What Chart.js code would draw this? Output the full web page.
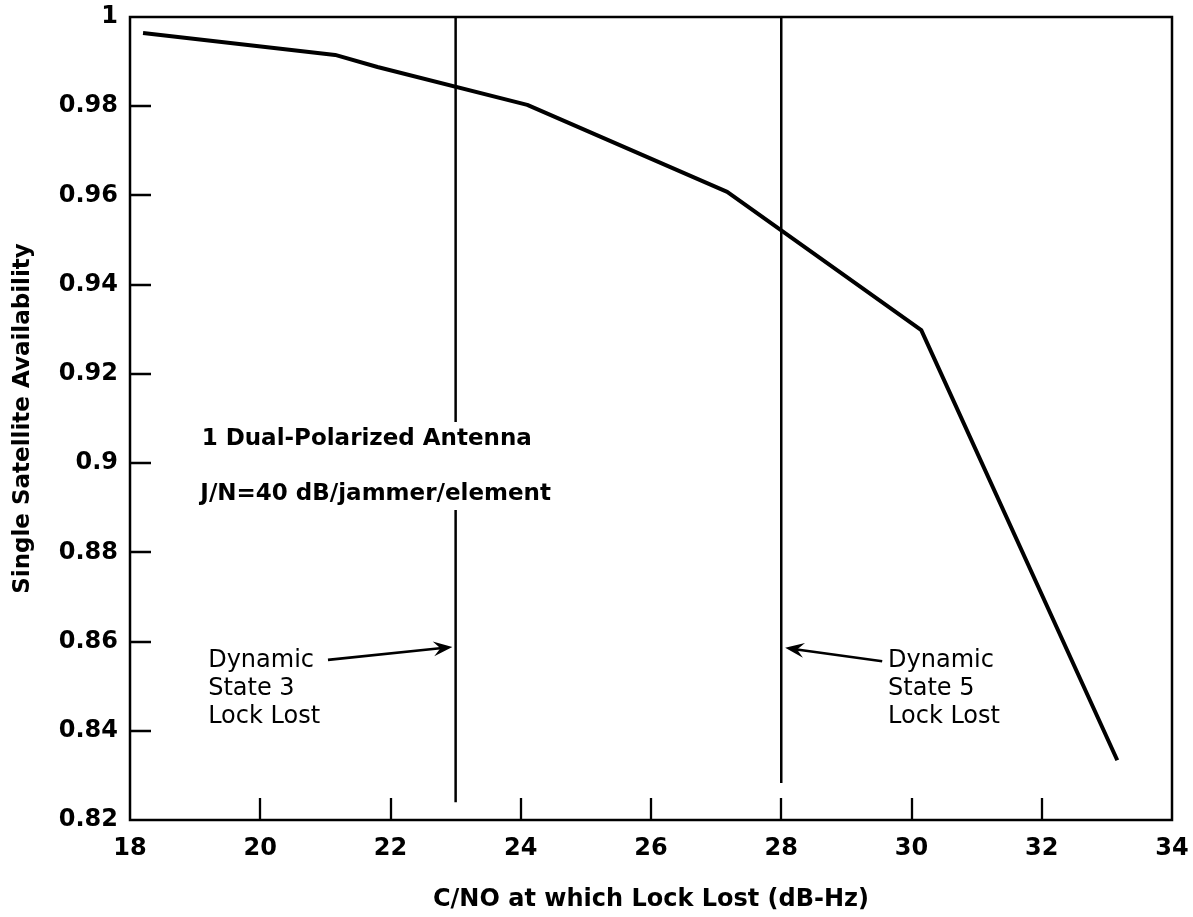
<!DOCTYPE html>
<html>
<head>
<meta charset="utf-8">
<script src="https://cdn.jsdelivr.net/npm/chart.js@4.4.1/dist/chart.umd.min.js"></script>
<style>
  html, body { margin: 0; padding: 0; background: #fff; overflow: hidden; }
  canvas { display: block; }
</style>
</head>
<body>
<canvas id="c" width="1193" height="917"></canvas>
<script>
// ---- data ----
const cnoValues = [18.2, 21.15, 21.8, 24.1, 27.17, 30.15, 33.16];
const availability = [0.9964, 0.9915, 0.9888, 0.9803, 0.9608, 0.9298, 0.8334];
const xTickValues = [18, 20, 22, 24, 26, 28, 30, 32, 34];
const xTickLabels = ['18', '20', '22', '24', '26', '28', '30', '32', '34'];
const yTickValues = [0.82, 0.84, 0.86, 0.88, 0.90, 0.92, 0.94, 0.96, 0.98, 1.00];
const yTickLabels = ['0.82', '0.84', '0.86', '0.88', '0.9', '0.92', '0.94', '0.96', '0.98', '1'];
// vertical "lock lost" markers: x position, and y segments [from, to]
const state3X = 23;
const state3Segments = [[1.0, 0.9092], [0.8895, 0.8240]];
const state5X = 28;
const state5Segments = [[1.0, 0.8283]];
// annotation texts
const noteLines = ['1 Dual-Polarized Antenna', 'J/N=40 dB/jammer/element'];
const notePos = [[19.1, 0.9041], [19.08, 0.8917]];
const state3Text = ['Dynamic', 'State 3', 'Lock Lost'];
const state3TextPos = [19.2, 0.8542];
const state3Arrow = [[21.04, 0.8559], [22.95, 0.8588]];
const state5Text = ['Dynamic', 'State 5', 'Lock Lost'];
const state5TextPos = [29.64, 0.8542];
const state5Arrow = [[29.55, 0.8556], [28.06, 0.8586]];

const FONT = "'DejaVu Sans', 'Liberation Sans', sans-serif";

function segData(xv, segs) {
  const out = [];
  segs.forEach((s, i) => {
    if (i > 0) out.push({ x: xv, y: null });
    out.push({ x: xv, y: s[0] });
    out.push({ x: xv, y: s[1] });
  });
  return out;
}

function labelFor(values, labels, v) {
  for (let i = 0; i < values.length; i++) {
    if (Math.abs(values[i] - v) < 1e-6) return labels[i];
  }
  return '';
}

const framePlugin = {
  id: 'frame',
  afterDraw(chart) {
    const { ctx, chartArea: a, scales } = chart;
    const xs = scales.x, ys = scales.y;
    ctx.save();
    ctx.strokeStyle = '#000';
    ctx.lineWidth = 2.5;
    ctx.strokeRect(a.left, a.top, a.right - a.left, a.bottom - a.top);
    // inward tick marks
    ctx.lineWidth = 2.3;
    ctx.beginPath();
    xTickValues.forEach(v => {
      if (v === xTickValues[0] || v === xTickValues[xTickValues.length - 1]) return;
      const px = Math.round(xs.getPixelForValue(v));
      ctx.moveTo(px, a.bottom);
      ctx.lineTo(px, a.bottom - 22);
    });
    yTickValues.forEach(v => {
      if (v === yTickValues[0] || v === yTickValues[yTickValues.length - 1]) return;
      const py = Math.round(ys.getPixelForValue(v));
      ctx.moveTo(a.left, py);
      ctx.lineTo(a.left + 21, py);
    });
    ctx.stroke();

    // bold notes
    ctx.fillStyle = '#000';
    ctx.textAlign = 'left';
    ctx.textBaseline = 'alphabetic';
    ctx.font = 'bold 23px ' + FONT;
    noteLines.forEach((t, i) => {
      ctx.fillText(t, xs.getPixelForValue(notePos[i][0]), ys.getPixelForValue(notePos[i][1]));
    });

    // regular multi-line labels
    ctx.font = '24px ' + FONT;
    const drawBlock = (lines, pos) => {
      const x0 = xs.getPixelForValue(pos[0]);
      const y0 = ys.getPixelForValue(pos[1]);
      lines.forEach((t, i) => ctx.fillText(t, x0, y0 + i * 28));
    };
    drawBlock(state3Text, state3TextPos);
    drawBlock(state5Text, state5TextPos);

    // arrows
    const drawArrow = (arr) => {
      const x1 = xs.getPixelForValue(arr[0][0]), y1 = ys.getPixelForValue(arr[0][1]);
      const x2 = xs.getPixelForValue(arr[1][0]), y2 = ys.getPixelForValue(arr[1][1]);
      const ang = Math.atan2(y2 - y1, x2 - x1);
      const c = Math.cos(ang), s = Math.sin(ang);
      const L = 19, W = 7.5;
      ctx.lineWidth = 2.6;
      ctx.beginPath();
      ctx.moveTo(x1, y1);
      ctx.lineTo(x2 - c * 10, y2 - s * 10);
      ctx.stroke();
      ctx.beginPath();
      ctx.moveTo(x2, y2);
      ctx.lineTo(x2 - L * c + W * s, y2 - L * s - W * c);
      ctx.lineTo(x2 - 12 * c, y2 - 12 * s);
      ctx.lineTo(x2 - L * c - W * s, y2 - L * s + W * c);
      ctx.closePath();
      ctx.fill();
    };
    drawArrow(state3Arrow);
    drawArrow(state5Arrow);
    ctx.restore();
  }
};

new Chart(document.getElementById('c'), {
  type: 'line',
  data: {
    datasets: [
      {
        data: cnoValues.map((x, i) => ({ x, y: availability[i] })),
        borderColor: '#000',
        borderWidth: 4,
        pointRadius: 0,
        tension: 0,
        borderJoinStyle: 'round',
        borderCapStyle: 'butt'
      },
      {
        data: segData(state3X, state3Segments),
        borderColor: '#000',
        borderWidth: 2.5,
        pointRadius: 0,
        spanGaps: false
      },
      {
        data: segData(state5X, state5Segments),
        borderColor: '#000',
        borderWidth: 2.5,
        pointRadius: 0,
        spanGaps: false
      }
    ]
  },
  options: {
    responsive: false,
    devicePixelRatio: 1,
    animation: false,
    layout: { padding: { top: 17, right: 21, left: 0, bottom: 0 } },
    plugins: { legend: { display: false }, tooltip: { enabled: false } },
    scales: {
      x: {
        type: 'linear',
        min: 18, max: 34,
        afterBuildTicks(s) { s.ticks = xTickValues.map(v => ({ value: v })); },
        afterFit(s) { s.height = 97; s.paddingLeft = 0; s.paddingRight = 0; },
        grid: { display: false, drawTicks: false },
        border: { display: false },
        ticks: {
          padding: 14,
          color: '#000',
          font: { family: FONT, size: 24, weight: 'bold' },
          callback: v => labelFor(xTickValues, xTickLabels, v),
          maxRotation: 0, autoSkip: false
        },
        title: {
          display: true,
          text: 'C/NO at which Lock Lost (dB-Hz)',
          color: '#000',
          font: { family: FONT, size: 24, weight: 'bold' },
          padding: { top: 0, bottom: 3 }
        }
      },
      y: {
        type: 'linear',
        min: 0.82, max: 1,
        afterBuildTicks(s) { s.ticks = yTickValues.map(v => ({ value: v })); },
        afterFit(s) { s.width = 130; s.paddingTop = 0; s.paddingBottom = 0; },
        grid: { display: false, drawTicks: false },
        border: { display: false },
        ticks: {
          padding: 12,
          color: '#000',
          font: { family: FONT, size: 24, weight: 'bold' },
          callback: v => labelFor(yTickValues, yTickLabels, v),
          autoSkip: false
        },
        title: {
          display: true,
          text: 'Single Satellite Availability',
          color: '#000',
          font: { family: FONT, size: 23, weight: 'bold' },
          padding: { top: 9, bottom: 0 }
        }
      }
    }
  },
  plugins: [framePlugin]
});
</script>
</body>
</html>
